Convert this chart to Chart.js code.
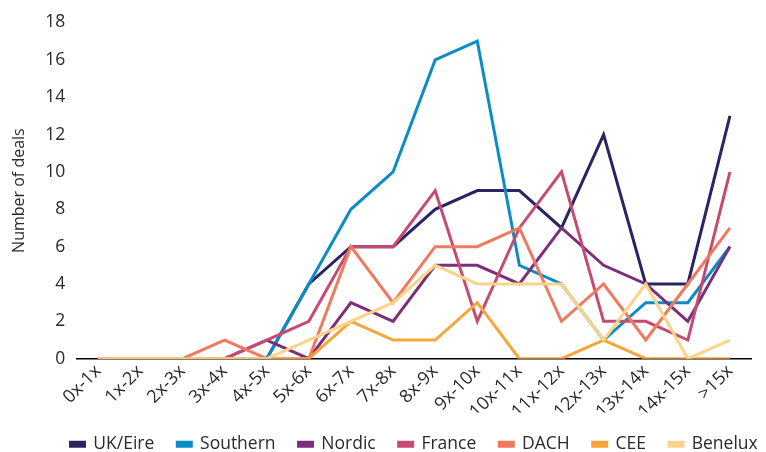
<!DOCTYPE html>
<html>
<head>
<meta charset="utf-8">
<script src="https://cdn.jsdelivr.net/npm/chart.js@4"></script>
<style>
  html, body { margin: 0; padding: 0; background: #fff; }
  #wrap { width: 766px; height: 452px; }
</style>
</head>
<body>
<div id="wrap"><canvas id="myChart"></canvas></div>
<script>
var labels = ['0x-1x', '1x-2x', '2x-3x', '3x-4x', '4x-5x', '5x-6x', '6x-7x', '7x-8x', '8x-9x', '9x-10x', '10x-11x', '11x-12x', '12x-13x', '13x-14x', '14x-15x', '>15x'];

var ukEire   = [0, 0, 0, 0, 0, 4, 6, 6, 8, 9, 9, 7, 12, 4, 4, 13];
var southern = [0, 0, 0, 0, 0, 4, 8, 10, 16, 17, 5, 4, 1, 3, 3, 6];
var nordic   = [0, 0, 0, 0, 1, 0, 3, 2, 5, 5, 4, 7, 5, 4, 2, 6];
var france   = [0, 0, 0, 0, 1, 2, 6, 6, 9, 2, 7, 10, 2, 2, 1, 10];
var dach     = [0, 0, 0, 1, 0, 0, 6, 3, 6, 6, 7, 2, 4, 1, 4, 7];
var cee      = [0, 0, 0, 0, 0, 0, 2, 1, 1, 3, 0, 0, 1, 0, 0, 0];
var benelux  = [0, 0, 0, 0, 0, 1, 2, 3, 5, 4, 4, 4, 1, 4, 0, 1];

var seriesNames = ['UK/Eire', 'Southern', 'Nordic', 'France', 'DACH', 'CEE', 'Benelux'];
var seriesData = [ukEire, southern, nordic, france, dach, cee, benelux];
var colores = ['#2c2363', '#0b8cc4', '#7b2f78', '#c74a70', '#ef7a5f', '#f9a53a', '#fbd489'];

var ctx = document.getElementById('myChart').getContext('2d');

Chart.defaults.font.family = '"Open Sans", sans-serif';
Chart.defaults.font.size = 17.5;
Chart.defaults.color = '#2a2a2a';

var datasets = seriesNames.map(function (name, i) {
    return {
        label: name,
        data: seriesData[i],
        borderColor: colores[i],
        backgroundColor: colores[i],
        borderWidth: 3,
        pointRadius: 0,
        tension: 0,
        order: 7 - i // Benelux on top, like the picture
    };
});

// la leyenda del original esta centrada sobre el area del grafico, no sobre el canvas
var moverLeyenda = {
    id: 'moverLeyenda',
    afterLayout: function (chart) {
        var dx = (chart.chartArea.left + chart.chartArea.right) / 2 - (chart.legend.left + chart.legend.right) / 2;
        chart.legend.left += dx;
        chart.legend.right += dx;
    }
};

var myChart = new Chart(ctx, {
    type: 'line',
    data: { labels: labels, datasets: datasets },
    plugins: [moverLeyenda],
    options: {
        responsive: true,
        maintainAspectRatio: false,
        animation: false,
        layout: { padding: { top: 2, right: 15, left: 6, bottom: -11 } },
        plugins: {
            tooltip: { enabled: false },
            legend: {
                position: 'bottom',
                labels: {
                    boxWidth: 14,
                    boxHeight: 4,
                    padding: 23,
                    sort: function (a, b) { return a.datasetIndex - b.datasetIndex; }
                }
            }
        },
        scales: {
            x: {
                offset: true,
                grid: { display: false, drawTicks: false },
                border: { display: true, color: '#000', width: 1.5 },
                ticks: { minRotation: 45, maxRotation: 45, padding: 2, font: { size: 18 } },
                afterFit: function (scale) { scale.height -= 12; }
            },
            y: {
                min: 0,
                max: 18,
                grid: { display: false, drawTicks: false },
                border: { display: false },
                ticks: { stepSize: 2, padding: 12 },
                title: { display: true, text: 'Number of deals', font: { size: 16 }, padding: { bottom: 4 } }
            }
        }
    }
});
</script>
</body>
</html>
